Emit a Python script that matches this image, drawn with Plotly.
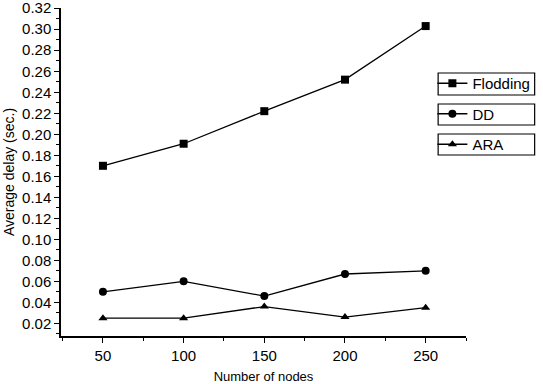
import plotly.graph_objects as go

nodes = [50, 100, 150, 200, 250]
flooding = [0.170, 0.191, 0.222, 0.252, 0.303]
dd = [0.050, 0.060, 0.046, 0.067, 0.070]
ara = [0.025, 0.025, 0.036, 0.026, 0.035]

series = [
    ("Flodding", flooding, "square"),
    ("DD", dd, "circle"),
    ("ARA", ara, "triangle-up"),
]

fig = go.Figure()
for name, vals, sym in series:
    fig.add_trace(go.Scatter(
        x=nodes, y=vals, name=name, mode="lines+markers",
        legendgroup=name,
        line=dict(color="black", width=1.3),
        marker=dict(symbol=sym, size=8, color="black"),
    ))

T, B = 8, 48
PH = 384 - T - B
bottom = 384 - B

font = "Liberation Sans, Arial, sans-serif"
fig.update_layout(
    width=543, height=384,
    margin=dict(l=61, r=75, t=T, b=B),
    paper_bgcolor="white", plot_bgcolor="white",
    font=dict(family=font, size=15, color="black"),
    showlegend=True,
    legend=dict(x=0.917, y=(bottom - 67) / PH, xanchor="left", yanchor="top",
                bgcolor="rgba(0,0,0,0)", tracegroupgap=8,
                font=dict(size=15), itemwidth=30),
    xaxis=dict(range=[24, 275], tickvals=nodes, showline=True, linecolor="black",
               linewidth=1.5, ticks="outside", ticklen=5, tickwidth=1.3,
               tickcolor="black", showgrid=False, zeroline=False, automargin=False,
               minor=dict(tickvals=[25, 75, 125, 175, 225, 275], ticks="outside",
                          ticklen=3, tickcolor="black", tickwidth=1),
               title=dict(text="Number of nodes", font=dict(size=13), standoff=23)),
    yaxis=dict(range=[0.008, 0.3202], dtick=0.02, tick0=0, tickformat=".2f",
               showline=True, linecolor="black", linewidth=1.5, ticks="outside",
               ticklen=5, tickwidth=1.3, tickcolor="black", showgrid=False,
               zeroline=False, automargin=False, ticklabeloverflow="allow",
               minor=dict(dtick=0.01, ticks="outside", ticklen=3,
                          tickcolor="black", tickwidth=1),
               title=dict(text="Average delay (sec.)", font=dict(size=14), standoff=4)),
)

# individual boxes around legend entries
for y0, y1 in [(73, 95), (104, 125), (134, 155)]:
    fig.add_shape(type="rect", xref="paper", yref="paper",
                  x0=(440 - 61) / 407, x1=(537 - 61) / 407,
                  y0=(bottom - y1) / PH, y1=(bottom - y0) / PH,
                  line=dict(color="black", width=1.2))

fig.write_html("out.html")
